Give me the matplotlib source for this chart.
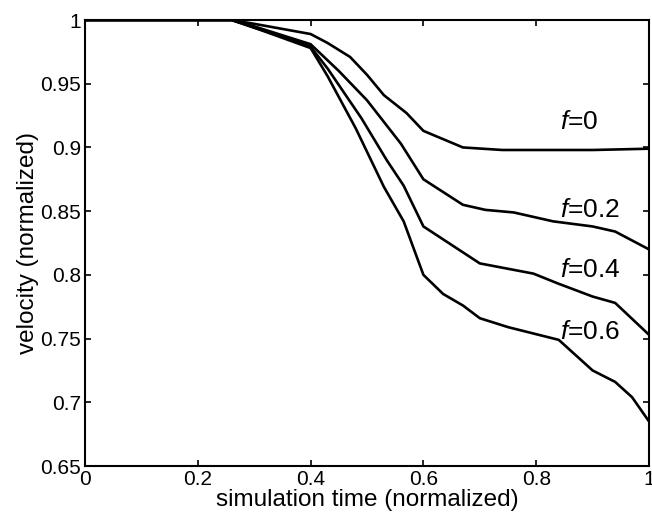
import numpy as np
import matplotlib
matplotlib.use('Agg')
import matplotlib.pyplot as plt

plt.rcParams['font.family'] = 'Liberation Sans'
plt.rcParams['mathtext.fontset'] = 'custom'
plt.rcParams['mathtext.it'] = 'Liberation Sans:italic'
plt.rcParams['mathtext.rm'] = 'Liberation Sans'

# ── DATA ───────────────────────────────────────────────────────────────────────
x_f0  = [0, 0.26, 0.30, 0.35, 0.40, 0.43, 0.47, 0.50, 0.53, 0.57, 0.60, 0.67, 0.74, 0.80, 0.90, 1.00]
y_f0  = [1, 1, 0.997, 0.993, 0.989, 0.982, 0.971, 0.957, 0.941, 0.927, 0.913, 0.900, 0.898, 0.898, 0.898, 0.899]

x_f02 = [0, 0.26, 0.30, 0.35, 0.40, 0.45, 0.50, 0.56, 0.60, 0.67, 0.71, 0.76, 0.83, 0.90, 0.94, 1.00]
y_f02 = [1, 1, 0.995, 0.988, 0.981, 0.960, 0.937, 0.903, 0.875, 0.855, 0.851, 0.849, 0.842, 0.838, 0.834, 0.820]

x_f04 = [0, 0.26, 0.30, 0.35, 0.40, 0.43, 0.49, 0.535, 0.565, 0.60, 0.70, 0.795, 0.84, 0.90, 0.94, 1.00]
y_f04 = [1, 1, 0.994, 0.987, 0.979, 0.962, 0.923, 0.890, 0.870, 0.838, 0.809, 0.801, 0.793, 0.783, 0.778, 0.753]

x_f06 = [0, 0.26, 0.30, 0.35, 0.40, 0.43, 0.48, 0.53, 0.565, 0.60, 0.635, 0.67, 0.70, 0.75, 0.795, 0.84, 0.90, 0.94, 0.97, 1.00]
y_f06 = [1, 1, 0.994, 0.986, 0.978, 0.956, 0.915, 0.869, 0.842, 0.800, 0.785, 0.776, 0.766, 0.759, 0.754, 0.749, 0.725, 0.716, 0.704, 0.685]

labels  = ['$f$=0', '$f$=0.2', '$f$=0.4', '$f$=0.6']
label_y = [0.920, 0.851, 0.804, 0.755]

xtick_labels = ['0', '0.2', '0.4', '0.6', '0.8', '1']
ytick_labels = ['0.65', '0.7', '0.75', '0.8', '0.85', '0.9', '0.95', '1']

# ── PLOT ────────────────────────────────────────────────────────────────────────
fig = plt.figure(figsize=(6.52, 5.17), dpi=100)
ax = fig.add_axes([0.1304, 0.0986, 0.865, 0.8627])

for xs, ys in [(x_f0, y_f0), (x_f02, y_f02), (x_f04, y_f04), (x_f06, y_f06)]:
    ax.plot(xs, ys, color='black', linewidth=1.9)

for lab, ly in zip(labels, label_y):
    ax.text(0.843, ly, lab, fontsize=19, va='center', ha='left')

ax.set_xlim(0, 1)
ax.set_ylim(0.65, 1)
ax.set_xticks(np.arange(0, 1.01, 0.2))
ax.set_yticks(np.arange(0.65, 1.001, 0.05))
ax.set_xticklabels(xtick_labels)
ax.set_yticklabels(ytick_labels)
ax.tick_params(direction='in', top=True, right=True, length=4, width=1.2,
               labelsize=15, pad=3)
for s in ax.spines.values():
    s.set_linewidth(1.5)

ax.set_xlabel('simulation time (normalized)', fontsize=17.5, labelpad=0)
ax.set_ylabel('velocity (normalized)', fontsize=17.5, labelpad=1)

fig.savefig('out.png', dpi=100)
